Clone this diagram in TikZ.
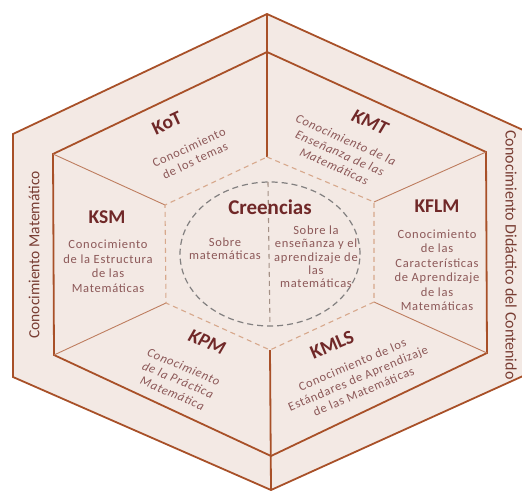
\documentclass[tikz,border=0pt]{standalone}
\usepackage{fontspec}
\setmainfont{Carlito}
\definecolor{fillc}{RGB}{243,233,228}
\definecolor{edgec}{RGB}{168,80,40}
\definecolor{thinc}{RGB}{190,125,95}
\definecolor{headc}{RGB}{112,40,40}
\definecolor{bodyc}{RGB}{140,88,88}
\definecolor{dashc}{RGB}{215,168,140}
\definecolor{circc}{RGB}{130,128,128}
\definecolor{bandc}{RGB}{120,60,50}
\newcommand{\bodyfont}{\fontsize{12.5}{14.5}\selectfont\addfontfeature{LetterSpace=6}}
\newcommand{\bodyitfont}{\itshape\fontsize{12.5}{14.5}\selectfont\addfontfeature{LetterSpace=6}}
\begin{document}
\begin{tikzpicture}[x=1pt,y=-1pt,
  thickedge/.style={draw=edgec, line width=1.8pt, line join=miter},
  thinedge/.style={draw=thinc, line width=0.9pt},
  dashhex/.style={draw=dashc, line width=1.1pt, dash pattern=on 5pt off 4pt},
  circline/.style={draw=circc, line width=1.2pt, dash pattern=on 6pt off 4pt},
  head/.style={font=\bfseries\fontsize{19.5}{21}\selectfont, text=headc},
  headit/.style={font=\bfseries\itshape\fontsize{19.5}{21}\selectfont, text=headc},
  body/.style={font=\bodyfont, text=bodyc, align=center},
  bodyit/.style={font=\bodyitfont, text=bodyc, align=center},
  cbody/.style={font=\fontsize{12.5}{13.3}\selectfont\addfontfeature{LetterSpace=6}, text=bodyc, align=center},
  band/.style={font=\fontsize{16}{18}\selectfont, text=bandc}]
\useasboundingbox (0,0) rectangle (522,490);
% outer hexagon
\coordinate (oT) at (267,14);
\coordinate (oUR) at (523,130);
\coordinate (oLR) at (523,376);
\coordinate (oB) at (271,490);
\coordinate (oLL) at (13,377);
\coordinate (oUL) at (13,134);
% inner hexagon
\coordinate (iT) at (267,52);
\coordinate (iUR) at (486,152);
\coordinate (iLR) at (487,353);
\coordinate (iB) at (271,456);
\coordinate (iLL) at (54,355);
\coordinate (iUL) at (53,154);
% dashed centre hexagon
\coordinate (dT) at (267,157);
\coordinate (dUR) at (374,202);
\coordinate (dLR) at (374,302);
\coordinate (dB) at (270,350);
\coordinate (dLL) at (166,303);
\coordinate (dUL) at (165,205);
% circle points
\coordinate (cT) at (268,182);
\coordinate (cB) at (270,326);

\fill[fillc] (oT) -- (oUR) -- (oLR) -- (oB) -- (oLL) -- (oUL) -- cycle;
\draw[thickedge] (oT) -- (oUR) -- (oLR) -- (oB) -- (oLL) -- (oUL) -- cycle;
\draw[thickedge] (iT) -- (iUR) -- (iLR) -- (iB) -- (iLL) -- (iUL) -- cycle;
\draw[thickedge] (oT) -- (dT);
\draw[thickedge] (dB) -- (oB);
\draw[thinedge] (iUL) -- (dUL);
\draw[thinedge] (iUR) -- (dUR);
\draw[thinedge] (iLR) -- (dLR);
\draw[thinedge] (iLL) -- (dLL);
\draw[dashhex] (dT) -- (dUR) -- (dLR) -- (dB) -- (dLL) -- (dUL) -- cycle;
\draw[circline] (270,254) ellipse [x radius=90pt, y radius=72pt];
\draw[dashhex, draw=circc!60!dashc] (cT) -- (cB);

% labels
\node[head, rotate=25] (kot) at (167,123) {KoT};
\node[body, rotate=25] (kotb) at (192,154) {Conocimiento\\de los temas};
\node[headit, rotate=-24] (kmt) at (370,122) {KMT};
\node[bodyit, rotate=-24] (kmtb) at (340,153) {Conocimiento de la\\Enseñanza de las\\Matemáticas};
\node[head] (ksm) at (107,217) {KSM};
\node[body] (ksmb) at (108,266) {Conocimiento\\de la Estructura\\de las\\Matemáticas};
\node[head] (kflm) at (437,206) {KFLM};
\node[body] (kflmb) at (437,270) {Conocimiento\\de las\\Características\\de Aprendizaje\\de las\\Matemáticas};
\node[headit, rotate=-23] (kpm) at (207,342) {KPM};
\node[bodyit, rotate=-23] (kpmb) at (178,380) {Conocimiento\\de la Práctica\\Matemática};
\node[head, rotate=23] (kmls) at (332,345) {KMLS};
\node[body, rotate=23] (kmlsb) at (358,378) {Conocimiento de los\\Estándares de Aprendizaje\\de las Matemáticas};
\node[head, font=\bfseries\fontsize{21}{23}\selectfont] (cre) at (270,207) {Creencias};
\node[cbody] (cl) at (225,249) {Sobre\\matemáticas};
\node[cbody] (cr) at (316,257) {Sobre la\\enseñanza y el\\aprendizaje de\\las\\matemáticas};
\node[band, font=\fontsize{15.5}{18}\selectfont, rotate=90] (cm) at (34,255) {Conocimiento Matemático};
\node[band, rotate=-90] (cdc) at (511,255) {Conocimiento Didáctico del Contenido};
\end{tikzpicture}
\end{document}
